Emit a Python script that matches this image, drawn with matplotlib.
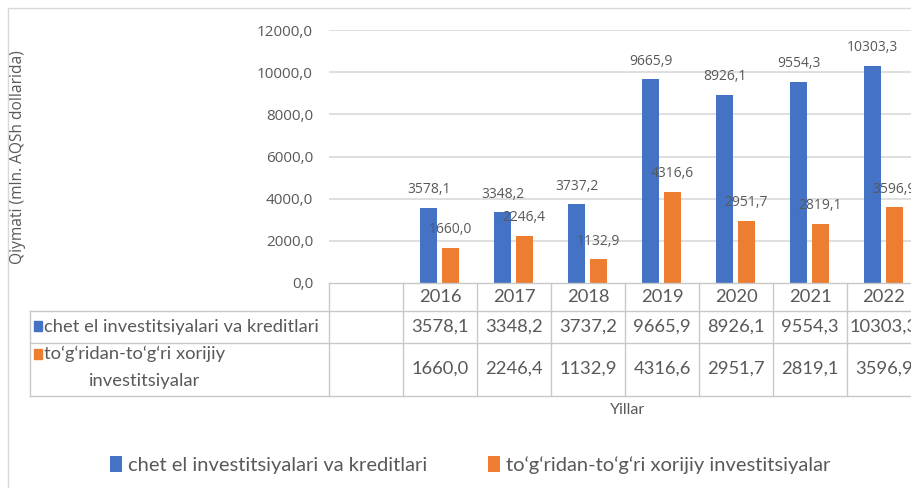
import numpy as np
import matplotlib
matplotlib.use("Agg")
import matplotlib.pyplot as plt
import matplotlib.transforms as mtransforms
from matplotlib.lines import Line2D
from matplotlib.patches import Rectangle

# data
years = ['2016', '2017', '2018', '2019', '2020', '2021', '2022']
foreign_credits = [3578.1, 3348.2, 3737.2, 9665.9, 8926.1, 9554.3, 10303.3]
direct_invest = [1660.0, 2246.4, 1132.9, 4316.6, 2951.7, 2819.1, 3596.9]
yticks = [0, 2000, 4000, 6000, 8000, 10000, 12000]

name1 = 'chet el investitsiyalari va kreditlari'
name2 = 'to‘g‘ridan-to‘g‘ri xorijiy investitsiyalar'
blue = '#4472C4'
orange = '#ED7D31'
txt = '#595959'
grid = '#d9d9d9'
tline = '#c8c8c8'

W, H = 911, 488
def fx(px):
    return px / W
def fy(py):
    return 1 - py / H

def fmt(v):
    return f"{v:.1f}".replace('.', ',')

plt.rcParams['font.family'] = ['Open Sans', 'DejaVu Sans']

fig = plt.figure(figsize=(W / 100, H / 100), dpi=100)
# plot area runs past the right edge (the picture is cropped there)
ax = fig.add_axes([fx(329), fy(283), 592 / W, 253 / H])

x = np.arange(1, len(years) + 1)   # slot 0 is an empty category
bw = 0.23
ax.bar(x - 0.15, foreign_credits, bw, color=blue, label=name1, zorder=3)
ax.bar(x + 0.14, direct_invest, bw, color=orange, label=name2, zorder=3)

for xi, v in zip(x, foreign_credits):
    ax.annotate(fmt(v), (xi - 0.15, v), xytext=(0, 13), textcoords='offset points',
                ha='center', va='center', fontsize=10, color=txt)
for xi, v in zip(x, direct_invest):
    ax.annotate(fmt(v), (xi + 0.14, v), xytext=(0, 13), textcoords='offset points',
                ha='center', va='center', fontsize=10, color=txt)

ax.set_xlim(-0.5, len(years) + 0.5)
ax.set_ylim(0, 12000)
ax.set_yticks(yticks)
ax.set_yticklabels([fmt(t) for t in yticks], fontsize=11, color=txt)
ax.tick_params(axis='y', length=0, pad=11.5)
ax.set_xticks([])
for s in ax.spines.values():
    s.set_visible(False)
for t in yticks[1:]:
    ax.axhline(t, color=grid, lw=1.2, zorder=1)

# data table below the plot
trans = mtransforms.blended_transform_factory(ax.transData, fig.transFigure)
y_axis, y_r1, y_r2, y_bot = 283, 311, 343, 396
fig.add_artist(Line2D([fx(329), 1], [fy(y_axis)] * 2, color=tline, lw=1))
for yy in (y_r1, y_r2, y_bot):
    fig.add_artist(Line2D([fx(30), 1], [fy(yy)] * 2, color=tline, lw=1))
fig.add_artist(Line2D([fx(30), fx(30)], [fy(y_r1), fy(y_bot)], color=tline, lw=1))
for b in np.arange(len(years) + 2) - 0.5:
    fig.add_artist(Line2D([b, b], [fy(y_axis), fy(y_bot)], color=tline, lw=1,
                          transform=trans))

tfont = ['Lato', 'DejaVu Sans']
tsize = 13.2
for xi, yr, a, b in zip(x, years, foreign_credits, direct_invest):
    fig.text(xi, fy(297), yr, transform=trans, ha='center', va='center',
             fontsize=tsize, color=txt, family=tfont)
    fig.text(xi, fy(327), fmt(a), transform=trans, ha='center', va='center',
             fontsize=tsize, color=txt, family=tfont)
    fig.text(xi, fy(369), fmt(b), transform=trans, ha='center', va='center',
             fontsize=tsize, color=txt, family=tfont)

fig.add_artist(Rectangle((fx(34), fy(331)), 8 / W, 10 / H, color=blue))
fig.text(fx(44), fy(327), name1, ha='left', va='center', fontsize=tsize,
         color=txt, family=tfont)
fig.add_artist(Rectangle((fx(34), fy(359)), 8 / W, 10 / H, color=orange))
fig.text(fx(44), fy(354), 'to‘g‘ridan-to‘g‘ri xorijiy', ha='left', va='center',
         fontsize=tsize, color=txt, family=tfont)
fig.text(fx(145), fy(381), 'investitsiyalar', ha='center', va='center',
         fontsize=tsize, color=txt, family=tfont)

fig.text(fx(628), fy(410), 'Yillar', ha='center', va='center', fontsize=11.5,
         color=txt, family=tfont)
fig.text(fx(18), fy(157), 'Qiymati (mln. AQSh dollarida)', rotation=90,
         ha='center', va='center', fontsize=11.2, color=txt)

fig.legend(loc='center', bbox_to_anchor=(fx(470), fy(465)), ncol=2,
           frameon=False, handlelength=0.6, handleheight=0.8,
           handletextpad=0.3, columnspacing=3.0,
           prop={'family': tfont, 'size': 14.5}, labelcolor=txt)

# chart area border
fig.add_artist(Rectangle((fx(8), -0.05), 1, fy(8) + 0.05, fill=False,
                         edgecolor='#d9d9d9', lw=1))

fig.savefig('out.png', dpi=100)
